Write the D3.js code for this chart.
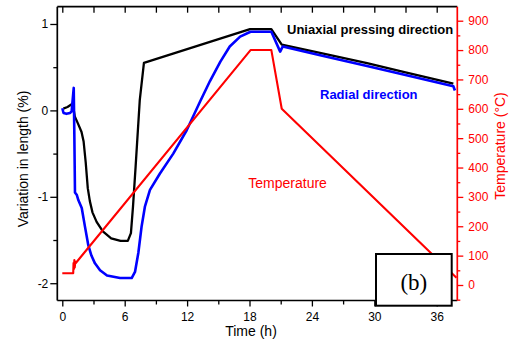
<!DOCTYPE html>
<html><head><meta charset="utf-8">
<script src="https://cdn.jsdelivr.net/npm/d3@7"></script>
<style>
html,body{margin:0;padding:0;background:#fff;}
svg{display:block;font-family:"Liberation Sans",Arial,sans-serif;}
</style></head>
<body><svg id="chart" width="510" height="343"></svg>
<script>
// ---- data ----
const uniaxialTime   = [0.1, 0.5, 0.9, 1.0, 1.2, 1.5, 1.85, 2.05, 2.25, 2.45, 2.65, 2.9, 3.3, 3.9, 4.7, 5.6, 6.3, 6.6, 6.8, 7.05, 7.45, 7.85, 18.05, 20.1, 21.1, 25, 29.3, 33, 37.6];
const uniaxialLength = [0.02, 0.04, 0.07, 0.08, -0.07, -0.15, -0.25, -0.36, -0.6, -0.9, -1.05, -1.18, -1.29, -1.40, -1.48, -1.51, -1.51, -1.42, -1.11, -0.65, 0.12, 0.55, 0.94, 0.94, 0.76, 0.66, 0.548, 0.44, 0.31];

const radialTime   = [0, 0.12, 0.4, 0.75, 0.9, 1.1, 1.16, 1.22, 1.4, 1.55, 1.87, 2.18, 2.5, 2.8, 3.14, 3.63, 4.3, 5.55, 6.67, 6.99, 7.31, 7.63, 7.95, 8.43, 9.39, 10.67, 11.96, 13.24, 14.2, 15.2, 16.1, 17.1, 18.1, 20.1, 20.95, 21.2, 25, 29.3, 33, 37.6, 37.75];
const radialLength = [0.025, -0.03, -0.04, -0.03, -0.01, 0.26, -0.3, -0.95, -0.98, -1.04, -1.13, -1.345, -1.56, -1.68, -1.77, -1.85, -1.91, -1.94, -1.94, -1.87, -1.65, -1.34, -1.11, -0.92, -0.73, -0.50, -0.23, 0.10, 0.34, 0.565, 0.74, 0.854, 0.91, 0.91, 0.68, 0.74, 0.633, 0.513, 0.41, 0.28, 0.23];

const tempTime  = [0, 1.05, 1.08, 1.12, 1.16, 1.2, 1.25, 1.3, 18.1, 20.1, 21.1, 37.9];
const tempValue = [40, 40, 75, 55, 85, 60, 80, 75, 800, 800, 600, 25];

const timeTicks = [0, 6, 12, 18, 24, 30, 36];
const timeMinorTicks = [3, 9, 15, 21, 27, 33];
const lengthTicks = [-2, -1, 0, 1];
const lengthMinorTicks = [-1.5, -0.5, 0.5];
const tempTicks = [0, 100, 200, 300, 400, 500, 600, 700, 800, 900];
const tempMinorTicks = [-50, 50, 150, 250, 350, 450, 550, 650, 750, 850];

// ---- layout ----
const L = 57.3, R = 457.3, T = 6.7, B = 300.5;
const svg = d3.select("#chart");

const x = d3.scaleLinear().domain([-0.48, 37.98]).range([L, R]);
const y = d3.scaleLinear().domain([-2.2, 1.2]).range([B, T]);
const yT = d3.scaleLinear().domain([-52.8, 947.7]).range([B, T]);

const fmt = d => String(d).replace("\u2212", "-");

function styleAxis(g, color) {
  g.selectAll(".domain").remove();
  g.selectAll("line").attr("stroke", color).attr("stroke-width", 1.3);
  g.selectAll("text").attr("fill", color).attr("font-size", "12px")
    .attr("font-family", "Liberation Sans, Arial, sans-serif");
}

// bottom axis
svg.append("g").attr("transform", `translate(0,${B})`)
  .call(d3.axisBottom(x).tickValues(timeTicks).tickSize(6).tickPadding(6).tickFormat(fmt))
  .call(g => styleAxis(g, "#000"));
svg.append("g").attr("transform", `translate(0,${B})`)
  .call(d3.axisBottom(x).tickValues(timeMinorTicks).tickSize(4).tickFormat(""))
  .call(g => styleAxis(g, "#000"));
// top axis (inward ticks)
svg.append("g").attr("transform", `translate(0,${T})`)
  .call(d3.axisBottom(x).tickValues(timeTicks.concat(timeMinorTicks)).tickSize(6).tickFormat(""))
  .call(g => styleAxis(g, "#000"));
// left axis
svg.append("g").attr("transform", `translate(${L},0)`)
  .call(d3.axisLeft(y).tickValues(lengthTicks).tickSize(7).tickPadding(2).tickFormat(d => d < 0 ? "-" + Math.abs(d) : String(d)))
  .call(g => styleAxis(g, "#000"));
svg.append("g").attr("transform", `translate(${L},0)`)
  .call(d3.axisLeft(y).tickValues(lengthMinorTicks).tickSize(4).tickFormat(""))
  .call(g => styleAxis(g, "#000"));
// right axis (temperature)
svg.append("g").attr("transform", `translate(${R},0)`)
  .call(d3.axisRight(yT).tickValues(tempTicks).tickSize(6).tickPadding(5).tickFormat(d => String(d)))
  .call(g => styleAxis(g, "#ff0000"));
svg.append("g").attr("transform", `translate(${R},0)`)
  .call(d3.axisRight(yT).tickValues(tempMinorTicks).tickSize(3).tickFormat(""))
  .call(g => styleAxis(g, "#ff0000"));

// frame
svg.append("line").attr("x1", L).attr("x2", L).attr("y1", T).attr("y2", B).attr("stroke", "#000").attr("stroke-width", 1.7);
svg.append("line").attr("x1", L).attr("x2", R).attr("y1", B).attr("y2", B).attr("stroke", "#000").attr("stroke-width", 1.7);
svg.append("line").attr("x1", L).attr("x2", R).attr("y1", T).attr("y2", T).attr("stroke", "#000").attr("stroke-width", 1.7);
svg.append("line").attr("x1", R).attr("x2", R).attr("y1", T).attr("y2", B).attr("stroke", "#ff0000").attr("stroke-width", 1.7);

// clip
svg.append("clipPath").attr("id", "plotclip").append("rect")
  .attr("x", L).attr("y", T).attr("width", R - L).attr("height", B - T);
const plot = svg.append("g").attr("clip-path", "url(#plotclip)");

const lineL = d3.line().x(d => x(d[0])).y(d => y(d[1]));
const lineT = d3.line().x(d => x(d[0])).y(d => yT(d[1]));

plot.append("path").datum(uniaxialTime.map((t, i) => [t, uniaxialLength[i]]))
  .attr("d", lineL).attr("fill", "none").attr("stroke", "#000").attr("stroke-width", 2.3).attr("stroke-linejoin", "round");
plot.append("path").datum(radialTime.map((t, i) => [t, radialLength[i]]))
  .attr("d", lineL).attr("fill", "none").attr("stroke", "#0000ff").attr("stroke-width", 2.6).attr("stroke-linejoin", "round");
plot.append("path").datum(tempTime.map((t, i) => [t, tempValue[i]]))
  .attr("d", lineT).attr("fill", "none").attr("stroke", "#ff0000").attr("stroke-width", 2.1).attr("stroke-linejoin", "round");

// annotations
svg.append("text").attr("x", 287).attr("y", 33.5).attr("font-size", "13px").attr("font-weight", "bold")
  .attr("fill", "#000").text("Uniaxial pressing direction");
svg.append("text").attr("x", 320).attr("y", 98.5).attr("font-size", "13px").attr("font-weight", "bold")
  .attr("fill", "#0000ff").text("Radial direction");
svg.append("text").attr("x", 248.3).attr("y", 187.5).attr("font-size", "14px")
  .attr("fill", "#ff0000").text("Temperature");

// (b) box
svg.append("rect").attr("x", 376).attr("y", 254).attr("width", 75.7).attr("height", 51.7)
  .attr("fill", "#fff").attr("stroke", "#000").attr("stroke-width", 2);
svg.append("text").attr("x", 413.8).attr("y", 289.5).attr("text-anchor", "middle")
  .attr("font-family", "Liberation Serif, Times New Roman, serif").attr("font-size", "23px")
  .attr("fill", "#000").text("(b)");

// axis titles
svg.append("text").attr("x", 251).attr("y", 336).attr("text-anchor", "middle").attr("font-size", "14px")
  .attr("fill", "#000").text("Time (h)");
svg.append("text").attr("transform", "translate(23.5,159) rotate(-90)").attr("dy", "0.35em")
  .attr("text-anchor", "middle").attr("font-size", "14px").attr("fill", "#000").text("Variation in length (%)");
svg.append("text").attr("transform", "translate(500,146) rotate(-90)").attr("dy", "0.35em")
  .attr("text-anchor", "middle").attr("font-size", "14px").attr("fill", "#ff0000").text("Temperature (°C)");
</script></body></html>
